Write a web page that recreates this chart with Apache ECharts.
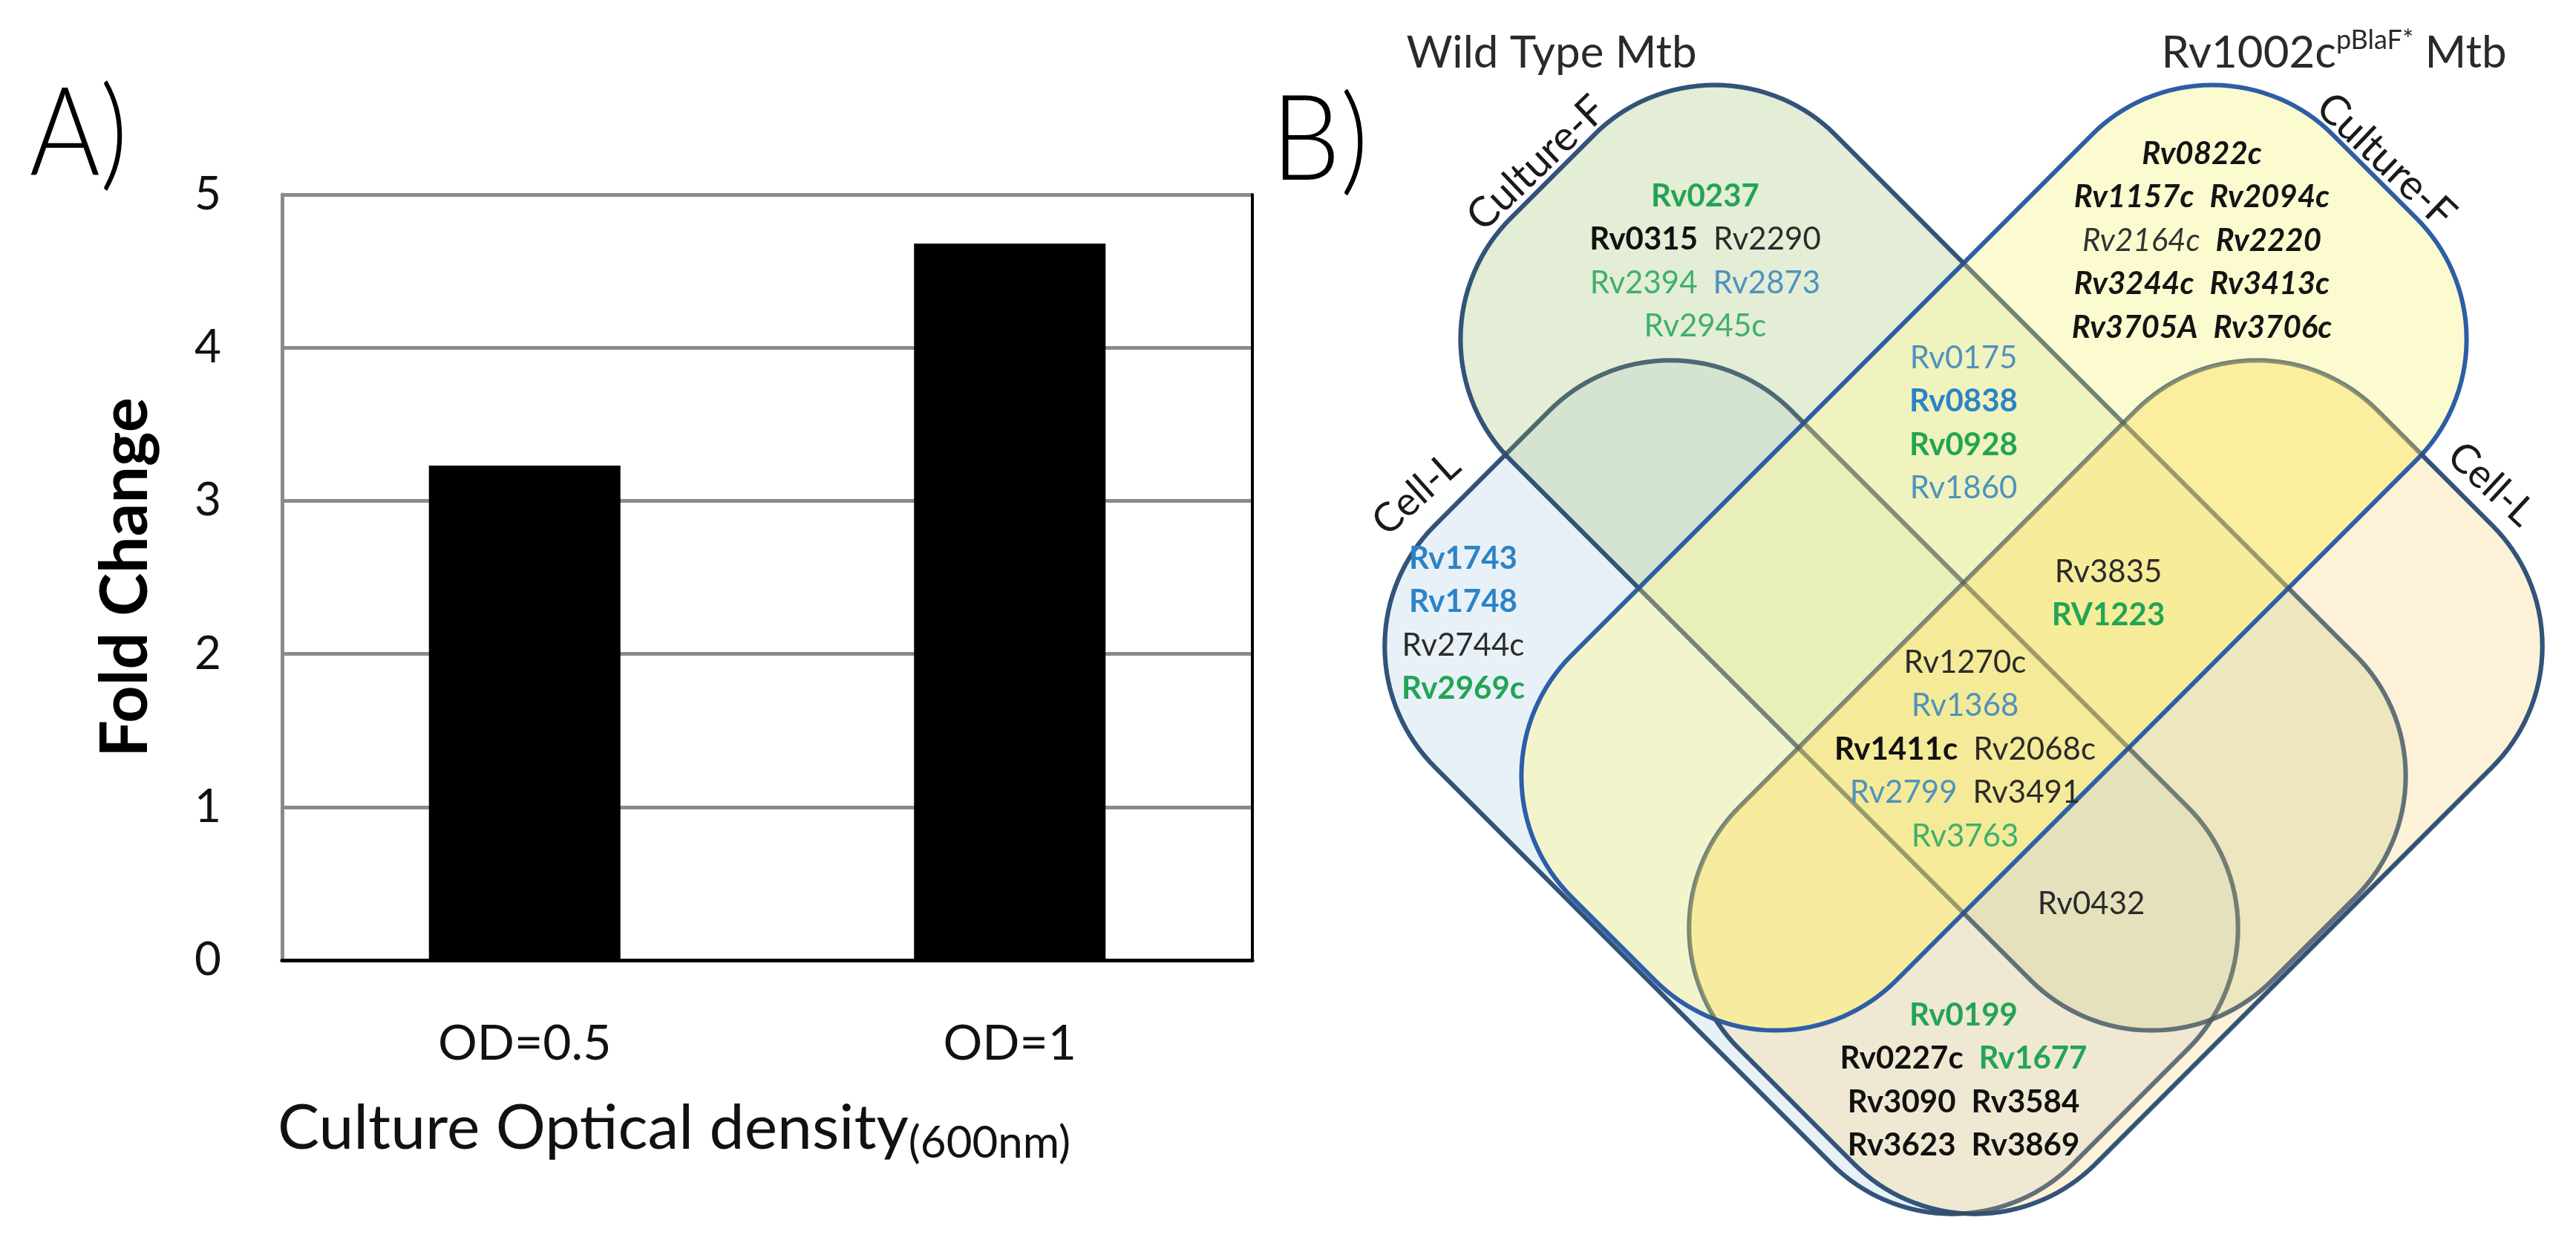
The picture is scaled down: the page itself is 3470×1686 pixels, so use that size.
<!DOCTYPE html>
<html><head><meta charset="utf-8">
<script src="https://cdn.jsdelivr.net/npm/echarts@6/dist/echarts.min.js"></script>
<style>html,body{margin:0;padding:0;background:#fff}#c{width:3470px;height:1686px}</style>
</head><body><div id="c"></div>
<script>
// ---------- Panel A data ----------
const categories = ['OD=0.5', 'OD=1'];
const foldChange = [3.23, 4.68];
const yMin = 0, yMax = 5, yInterval = 1;
const yAxisTitle = 'Fold Change';
const xAxisTitle = 'Culture Optical density';
const xAxisSub = '(600nm)';

// ---------- Panel B data ----------
const groupLeft = 'Wild Type Mtb';
const groupRightMain = 'Rv1002c', groupRightSup = 'pBlaF*', groupRightTail = ' Mtb';
const setLabels = ['Cell-L', 'Culture-F', 'Culture-F', 'Cell-L']; // A (WT Cell-L), B (WT Culture-F), C (Rv Culture-F), D (Rv Cell-L)
const genesWTCultureOnly = [['Rv0237'], ['Rv0315', 'Rv2290'], ['Rv2394', 'Rv2873'], ['Rv2945c']];
const genesRvCultureOnly = [['Rv0822c'], ['Rv1157c', 'Rv2094c'], ['Rv2164c', 'Rv2220'], ['Rv3244c', 'Rv3413c'], ['Rv3705A', 'Rv3706c']];
const genesWTCellOnly = [['Rv1743'], ['Rv1748'], ['Rv2744c'], ['Rv2969c']];
const genesCultureBoth = [['Rv0175'], ['Rv0838'], ['Rv0928'], ['Rv1860']];
const genesBCD = [['Rv3835'], ['RV1223']];
const genesAll = [['Rv1270c'], ['Rv1368'], ['Rv1411c', 'Rv2068c'], ['Rv2799', 'Rv3491'], ['Rv3763']];
const genesABD = [['Rv0432']];
const genesCellBoth = [['Rv0199'], ['Rv0227c', 'Rv1677'], ['Rv3090', 'Rv3584'], ['Rv3623', 'Rv3869']];
// gene text class: gb green bold, gn green, bb blue bold, bn steel blue, kb black bold, kn dark, kbi bold italic, kni italic
const geneClass = {
  Rv0237:'gb', Rv0315:'kb', Rv2290:'kn', Rv2394:'gn', Rv2873:'bn', Rv2945c:'gn',
  Rv0822c:'kbi', Rv1157c:'kbi', Rv2094c:'kbi', Rv2164c:'kni', Rv2220:'kbi', Rv3244c:'kbi', Rv3413c:'kbi', Rv3705A:'kbi', Rv3706c:'kbi',
  Rv1743:'bb', Rv1748:'bb', Rv2744c:'kn', Rv2969c:'gb',
  Rv0175:'bn', Rv0838:'bb', Rv0928:'gb', Rv1860:'bn',
  Rv3835:'kn', RV1223:'gb',
  Rv1270c:'kn', Rv1368:'bn', Rv1411c:'kb', Rv2068c:'kn', Rv2799:'bn', Rv3491:'kn', Rv3763:'gn',
  Rv0432:'kn',
  Rv0199:'gb', Rv0227c:'kb', Rv1677:'gb', Rv3090:'kb', Rv3584:'kb', Rv3623:'kb', Rv3869:'kb'
};

// ---------- styles / layout ----------
const FONT = 'Lato, "Open Sans", sans-serif';
const GRID_GRAY = '#8a8a8a';
const OUTLINE = '#2d5ea6';
const GENE_FS = 42, ROW = 58.5;
const richStyles = {
  gb: {fill:'#23a455', color:'#23a455', fontWeight:'bold'},
  gn: {fill:'#3fb06c', color:'#3fb06c', fontWeight:'normal'},
  bb: {fill:'#2d83c6', color:'#2d83c6', fontWeight:'bold'},
  bn: {fill:'#4f92bd', color:'#4f92bd', fontWeight:'normal'},
  kb: {fill:'#111111', color:'#111111', fontWeight:'bold'},
  kn: {fill:'#2b2b2b', color:'#2b2b2b', fontWeight:'normal'},
  kbi:{fill:'#141414', color:'#141414', fontWeight:'bold', fontStyle:'italic'},
  kni:{fill:'#333333', color:'#333333', fontWeight:'normal', fontStyle:'italic'}
};
Object.keys(richStyles).forEach(k => { richStyles[k].fontSize = GENE_FS; richStyles[k].fontFamily = FONT; });

function txt(x, y, text, st, extra) {
  const style = Object.assign({text: text, x: 0, y: 0, fontFamily: FONT, fill: '#111',
    align: 'center', verticalAlign: 'middle', textAlign: 'center', textVerticalAlign: 'middle'}, st);
  return Object.assign({type: 'text', x: x, y: y, z: 50, style: style}, extra || {});
}
function geneBlock(rows, cx, y0) {
  return rows.map((row, i) => txt(cx, y0 + i * ROW,
    row.map(g => '{' + geneClass[g] + '|' + g + '}').join('\u2002'),
    {fontSize: GENE_FS, rich: richStyles}));
}

// Venn shapes (rounded rectangles rotated +/-45deg), drawn in order A, B, D, C
const D45 = Math.PI / 4, CR = 230;
const geo = {
  A: {cx: 2440, cy: 1060, L: 1216, W: 679, rot: -D45},
  B: {cx: 2604, cy: 751, L: 1451, W: 619, rot: -D45},
  C: {cx: 2686, cy: 751, L: 1451, W: 619, rot: D45},
  D: {cx: 2850, cy: 1060, L: 1216, W: 679, rot: D45}
};
function venn(g, fill, stroke, z) {
  return {type: 'rect', x: g.cx, y: g.cy, rotation: g.rot, z: z,
    shape: {x: -g.L / 2, y: -g.W / 2, width: g.L, height: g.W, r: CR},
    style: {fill: fill, stroke: stroke, lineWidth: 6}};
}
const graphics = [
  venn(geo.A, 'rgba(178,208,228,0.30)', OUTLINE, 10),
  venn(geo.B, 'rgba(178,204,135,0.35)', OUTLINE, 11),
  venn(geo.D, 'rgba(250,220,157,0.40)', OUTLINE, 12)
];
// deeper tint on the C-and-D overlap: the intersection outline is computed in D's local frame
(function () {
  const c = Math.cos(D45), s = Math.sin(D45);
  const dx = geo.C.cx - geo.D.cx, dy = geo.C.cy - geo.D.cy;
  const lxC = c * dx - s * dy, lyC = s * dx + c * dy;
  const xL = -geo.D.L / 2, xR = geo.D.L / 2, yT = -geo.D.W / 2, yB = lyC + geo.C.W / 2;
  const cC = [lxC - geo.C.L / 2 + CR, yB - CR];
  const cD1 = [xL + CR, yT + CR], cD2 = [xR - CR, yT + CR];
  const mx = (cC[0] + cD1[0]) / 2, my = (cC[1] + cD1[1]) / 2;
  const vx = cD1[0] - cC[0], vy = cD1[1] - cC[1], d = Math.hypot(vx, vy);
  const hc = Math.sqrt(Math.max(CR * CR - d * d / 4, 0));
  const p1 = [mx - vy / d * hc, my + vx / d * hc], p2 = [mx + vy / d * hc, my - vx / d * hc];
  const P = p1[0] < p2[0] ? p1 : p2;
  const pts = [[xR, yB], [cC[0], yB]];
  const arc = (cen, a0, a1) => { for (let i = 1; i <= 24; i++) { const a = a0 + (a1 - a0) * i / 24; pts.push([cen[0] + CR * Math.cos(a), cen[1] + CR * Math.sin(a)]); } };
  let aC = Math.atan2(P[1] - cC[1], P[0] - cC[0]); if (aC < Math.PI / 2) aC += 2 * Math.PI;
  arc(cC, Math.PI / 2, aC);
  let aD = Math.atan2(P[1] - cD1[1], P[0] - cD1[0]); if (aD < 0) aD += 2 * Math.PI;
  arc(cD1, aD, 1.5 * Math.PI);
  pts.push([cD2[0], yT]);
  arc(cD2, 1.5 * Math.PI, 2 * Math.PI);
  graphics.push({type: 'polygon', x: geo.D.cx, y: geo.D.cy, rotation: geo.D.rot, z: 13, silent: true,
    shape: {points: pts}, style: {fill: 'rgba(250,210,60,0.44)', lineWidth: 0}});
})();
graphics.push(venn(geo.C, 'rgba(250,247,170,0.55)', OUTLINE, 14));
// line tint where outlines sit beneath other sets
['A', 'B', 'D'].forEach(k => graphics.push(Object.assign(venn(geo[k], 'none', 'rgba(60,70,60,0.42)', 15), {silent: true})));

// set labels
graphics.push(txt(1908, 665, setLabels[0], {fontSize: 54, fill: '#1a1a1a'}, {rotation: D45 * 0.93}));
graphics.push(txt(2070, 220, setLabels[1], {fontSize: 56, fill: '#1a1a1a'}, {rotation: D45 * 0.97}));
graphics.push(txt(3214, 216, setLabels[2], {fontSize: 56, fill: '#1a1a1a'}, {rotation: -D45 * 0.97}));
graphics.push(txt(3356, 652, setLabels[3], {fontSize: 54, fill: '#1a1a1a'}, {rotation: -D45 * 0.95}));
// group titles
graphics.push(txt(2090, 72, groupLeft, {fontSize: 60, fill: '#2a2a2a'}));
graphics.push(txt(3144, 72, '{m|' + groupRightMain + '}{s|' + groupRightSup + '}{m|' + groupRightTail + '}', {
  fontSize: 60, fill: '#2a2a2a', rich: {
    m: {fontSize: 60, fontFamily: FONT, fill: '#2a2a2a', color: '#2a2a2a', lineHeight: 72},
    s: {fontSize: 36, fontFamily: FONT, fill: '#2a2a2a', color: '#2a2a2a', lineHeight: 50, verticalAlign: 'top'}
  }}));
// gene lists
graphics.push(...geneBlock(genesWTCultureOnly, 2297, 264));
graphics.push(...geneBlock(genesRvCultureOnly, 2966, 207));
graphics.push(...geneBlock(genesWTCellOnly, 1971, 752));
graphics.push(...geneBlock(genesCultureBoth, 2645, 482));
graphics.push(...geneBlock(genesBCD, 2840, 770));
graphics.push(...geneBlock(genesAll, 2647, 892));
graphics.push(...geneBlock(genesABD, 2817, 1217));
graphics.push(...geneBlock(genesCellBoth, 2645, 1367));
// panel letters
graphics.push(txt(106, 182, 'A)', {fontSize: 165, fontWeight: 300, fill: '#000'}, {scaleX: 0.88}));
graphics.push(txt(1778, 190, 'B)', {fontSize: 160, fontWeight: 300, fill: '#000'}, {scaleX: 0.92}));
// x-axis title with subscript
graphics.push(txt(374, 1520, '{m|' + xAxisTitle + '}{s|' + xAxisSub + '}', {
  align: 'left', textAlign: 'left', fontSize: 84, rich: {
    m: {fontSize: 84, fontFamily: FONT, fill: '#111', color: '#111', lineHeight: 100},
    s: {fontSize: 60, fontFamily: FONT, fill: '#111', color: '#111', lineHeight: 52, verticalAlign: 'bottom'}
  }}));

const chart = echarts.init(document.getElementById('c'), null, {renderer: 'canvas'});
chart.setOption({
  backgroundColor: '#ffffff',
  animation: false,
  grid: {left: 380, top: 262, width: 1307, height: 1031, containLabel: false, outerBoundsMode: 'none'},
  xAxis: [
    {type: 'category', data: categories, position: 'bottom',
      axisLine: {lineStyle: {color: GRID_GRAY, width: 5}}, axisTick: {show: false},
      axisLabel: {fontSize: 66, fontFamily: FONT, color: '#111', margin: 80}},
    {type: 'category', data: categories, position: 'top',
      axisLine: {lineStyle: {color: '#000', width: 5}}, axisTick: {show: false}, axisLabel: {show: false}}
  ],
  yAxis: [
    {type: 'value', min: yMin, max: yMax, interval: yInterval,
      axisLine: {show: true, lineStyle: {color: GRID_GRAY, width: 5}}, axisTick: {show: false},
      splitLine: {show: true, lineStyle: {color: GRID_GRAY, width: 5}},
      axisLabel: {fontSize: 62, fontFamily: FONT, color: '#111', margin: 82},
      name: yAxisTitle, nameLocation: 'middle', nameGap: 166,
      nameTextStyle: {fontSize: 88, fontWeight: 'bold', fontFamily: FONT, color: '#000'}},
    {type: 'value', min: yMin, max: yMax, interval: yInterval, position: 'right',
      axisLine: {show: true, lineStyle: {color: '#000', width: 4}}, axisTick: {show: false},
      axisLabel: {show: false}, splitLine: {show: false}}
  ],
  series: [{type: 'bar', data: foldChange, barWidth: 258, itemStyle: {color: '#000'}, silent: true}],
  graphic: graphics
});
</script></body></html>
